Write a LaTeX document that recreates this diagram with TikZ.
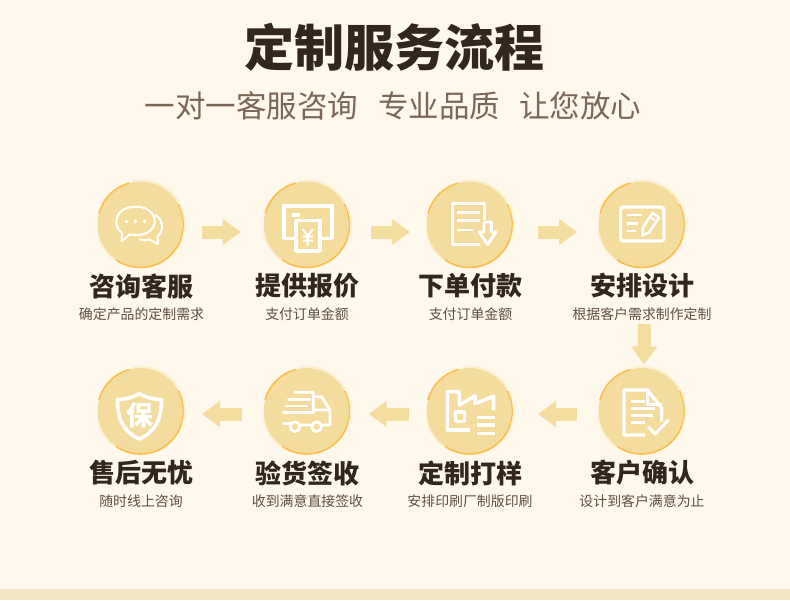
\documentclass[tikz,border=0pt]{standalone}
\usepackage{fontspec}
\setmainfont{Noto Sans CJK SC}
\newfontfamily\cjk{Noto Sans CJK SC}
\usetikzlibrary{arrows.meta}
\definecolor{bgc}{HTML}{FFF8EC}
\definecolor{band}{HTML}{F3E6C2}
\definecolor{disc}{HTML}{F4DC9E}
\definecolor{rimo}{HTML}{FCC04A}
\definecolor{riml}{HTML}{FDEFCB}
\definecolor{arr}{HTML}{F3DD9F}
\definecolor{ink}{HTML}{33271D}
\definecolor{subi}{HTML}{7A6757}
\definecolor{small}{HTML}{5F4F41}
\tikzset{
  disco/.style={circle,fill=disc,minimum size=86pt,inner sep=0pt,outer sep=0pt},
  steptitle/.style={font=\cjk\bfseries\fontsize{26}{26}\selectfont,text=ink,inner sep=0pt},
  stepnote/.style={font=\cjk\fontsize{13.9}{14}\selectfont,text=small,inner sep=0pt},
  blockarrow/.style={draw=arr,line width=13pt,-{Triangle[length=18pt,width=25pt,color=arr]}},
  ico/.style={draw=white,line width=3.3pt,line join=round},
  icot/.style={draw=white,line join=round,line cap=round},
  rimA/.style={draw=rimo,line width=1.6pt},
  rimB/.style={draw=riml,line width=1.5pt}
}
\newcommand{\rims}[1]{%
  \draw[rimA] ([shift={(-125:43pt)}]#1.center) arc[start angle=-125,end angle=28,radius=43pt];
  \draw[rimA] ([shift={(105:43pt)}]#1.center) arc[start angle=105,end angle=165,radius=43pt];
  \draw[rimB] ([shift={(30:44.2pt)}]#1.center) arc[start angle=30,end angle=100,radius=44.2pt];
  \draw[rimB] ([shift={(-20:44.2pt)}]#1.center) arc[start angle=-20,end angle=25,radius=44.2pt];
  \draw[rimB] ([shift={(190:43.8pt)}]#1.center) arc[start angle=190,end angle=235,radius=43.8pt];
}
\begin{document}
\begin{tikzpicture}[x=1pt,y=-1pt]
\useasboundingbox (0,0) rectangle (790,600);
\fill[bgc] (0,0) rectangle (790,600);
\fill[band] (0,589) rectangle (790,600);

\node[font=\cjk\bfseries\fontsize{50}{50}\selectfont,text=ink,inner sep=0pt] (title) at (394,47) {定制服务流程};
\node[font=\cjk\fontsize{30.5}{31}\selectfont,text=subi,inner sep=0pt] (sub1) at (251.5,106) {一对一客服咨询};
\node[font=\cjk\fontsize{30.5}{31}\selectfont,text=subi,inner sep=0pt] (sub2) at (439,106) {专业品质};
\node[font=\cjk\fontsize{30.5}{31}\selectfont,text=subi,inner sep=0pt] (sub3) at (580,106) {让您放心};

\node[disco] (c1) at (140.5,224.5) {};
\node[disco] (c2) at (306.7,224.5) {};
\node[disco] (c3) at (469.5,224.5) {};
\node[disco] (c4) at (641.5,224.5) {};
\node[disco] (c5) at (641.5,411) {};
\node[disco] (c6) at (469.5,411) {};
\node[disco] (c7) at (306.7,411) {};
\node[disco] (c8) at (140.5,411) {};
\rims{c1}\rims{c2}\rims{c3}\rims{c4}\rims{c5}\rims{c6}\rims{c7}\rims{c8}

\node[steptitle] (t1) at (141.5,286) {咨询客服};
\node[steptitle] (t2) at (307,286) {提供报价};
\node[steptitle] (t3) at (470,286) {下单付款};
\node[steptitle] (t4) at (642.5,286) {安排设计};
\node[steptitle] (t5) at (642.5,473) {客户确认};
\node[steptitle] (t6) at (470,473) {定制打样};
\node[steptitle] (t7) at (307,473) {验货签收};
\node[steptitle] (t8) at (141.5,473) {售后无忧};
\node[stepnote] (n1) at (141.5,314) {确定产品的定制需求};
\node[stepnote] (n2) at (307,314) {支付订单金额};
\node[stepnote] (n3) at (470.5,314) {支付订单金额};
\node[stepnote] (n4) at (642,314) {根据客户需求制作定制};
\node[stepnote] (n5) at (642,501) {设计到客户满意为止};
\node[stepnote] (n6) at (470,501) {安排印刷厂制版印刷};
\node[stepnote] (n7) at (307.5,501) {收到满意直接签收};
\node[stepnote] (n8) at (141,501) {随时线上咨询};

% connectors
\draw[blockarrow] ([shift={(18.5,7.5)}]c1.east) -- ([shift={(-23,7.5)}]c2.west);
\draw[blockarrow] ([shift={(21.3,7.5)}]c2.east) -- ([shift={(-16.5,7.5)}]c3.west);
\draw[blockarrow] ([shift={(25.5,7.5)}]c3.east) -- ([shift={(-21.5,7.5)}]c4.west);
\draw[blockarrow] ([shift={(2.5,3.5)}]n4.south) -- ([shift={(2.5,-3.5)}]c5.north);
\draw[blockarrow] ([shift={(-21.5,3)}]c5.west) -- ([shift={(25.5,3)}]c6.east);
\draw[blockarrow] ([shift={(-18,3)}]c6.west) -- ([shift={(19,3)}]c7.east);
\draw[blockarrow] ([shift={(-22,3)}]c7.west) -- ([shift={(18.5,3)}]c8.east);

% icon 1: chat
\draw[icot,line width=2pt] (122,233) .. controls (112,226) and (114,206.7) .. (136,206.7)
  .. controls (160,206.7) and (162,235) .. (136,235) -- (130,234.5) -- (121.5,241) -- cycle;
\fill[white] (126.5,221.5) circle (1.8) (135.5,221.5) circle (1.8) (144.5,221.5) circle (1.8);
\draw[icot,line width=2pt] (155.5,215) .. controls (162,219) and (165,230) .. (157.5,236.5)
  -- (158,244) -- (149,239.5) .. controls (146,240.5) and (143,240.5) .. (140,239.5);

% icon 2: bill
\draw[ico,line width=3.6pt] (296,238.3) -- (284,238.3) -- (284,205.7) -- (331.7,205.7) -- (331.7,238.3) -- (320,238.3);
\draw[ico,line width=3.6pt] (294.5,220.5) -- (321.5,220.5);
\draw[ico,line width=3.6pt] (296,220.5) -- (296,251) -- (320,251) -- (320,220.5);
\draw[white,line width=3.4pt] (292,215) -- (300,215);
\draw[white,line width=2pt] (302.5,229) -- (307.7,236) -- (313,229) (307.7,236) -- (307.7,245.5) (302.5,236.5) -- (313,236.5) (302.5,240.5) -- (313,240.5);

% icon 3: document with down arrow
\draw[ico] (480,244.5) -- (452.5,244.5) -- (452.5,203.5) -- (484.5,203.5) -- (484.5,220);
\draw[white,line width=2.8pt] (457,212.3) -- (480,212.3) (457,220.7) -- (480,220.7) (457,230) -- (473,230);
\draw[ico,line width=2.8pt] (484,222) -- (491.5,222) -- (491.5,232) -- (496,232) -- (487.7,244.5) -- (479,232) -- (484,232) -- cycle;

% icon 4: design card
\draw[ico,rounded corners=3pt] (620.5,207) rectangle (664,241);
\draw[white,line width=2.8pt] (627,215) -- (642,215) (627,223.3) -- (638,223.3) (627,231) -- (636,231);
\draw[ico,line width=2.6pt] (642.5,235.5) -- (643,227.5) -- (652.5,213) -- (659,217.5) -- (649.5,232) -- cycle;
\draw[white,line width=2pt] (650,217) -- (656.5,221.5);

% icon 8 (right row 2): document check
\draw[ico] (645,435) -- (624,435) -- (624,390) -- (647.3,390) -- (661.7,408) -- (661.7,421.7);
\draw[ico,line width=2.4pt] (647.3,390) -- (647.3,404.5) -- (661.7,404.5);
\draw[white,line width=2.6pt] (631,401.7) -- (645,401.7) (631,408.5) -- (655,408.5) (631,415.7) -- (653,415.7) (631,422.7) -- (645,422.7);
\draw[icot,line width=3pt] (648.5,427) -- (655,434) -- (668,420.5);

% icon 7: factory
\draw[ico,line width=3.6pt] (470,430) -- (447.3,430) -- (447.3,391.7) -- (459.3,391.7) -- (459.3,405) -- (475,396) -- (475,403.5) -- (493.5,396.5) -- (493.5,410);
\draw[ico,line width=3.4pt] (455.5,412) rectangle (464.5,421.5);
\draw[white,line width=3.4pt] (476.7,417.3) -- (495,417.3) (476.7,425) -- (495,425) (476.7,433.3) -- (495,433.3);

% icon 6: truck
\draw[ico,line width=2.8pt,line cap=round] (295,392.3) -- (313.3,392.3) -- (313.3,412.5) (313.3,396.7) -- (321.7,396.7) -- (330,410) -- (330,425) -- (323,425) (313.3,410) -- (330,410) (300.5,425) -- (310.5,425);
\draw[white,line width=2.8pt,line cap=round] (288.5,399.3) -- (310,399.3) (286,406) -- (307,406) (283,412.7) -- (313,412.7) (283.5,423.3) -- (291,423.3);
\draw[white,line width=2.8pt] (295,426.7) circle (4.8) (316.7,426.7) circle (4.8);

% icon 5: shield
\draw[ico,line width=3.6pt] (139.3,393.5) .. controls (132,398) and (125,399.5) .. (117.5,399.5)
  .. controls (117.5,420) and (124,432) .. (139.3,439) .. controls (155,432) and (161.5,420) .. (161.5,399.5)
  .. controls (154,399.5) and (147,398) .. cycle;
\node[font=\cjk\bfseries\fontsize{27}{27}\selectfont,text=white,inner sep=0pt] (bao) at (140,415) {保};
\end{tikzpicture}
\end{document}
